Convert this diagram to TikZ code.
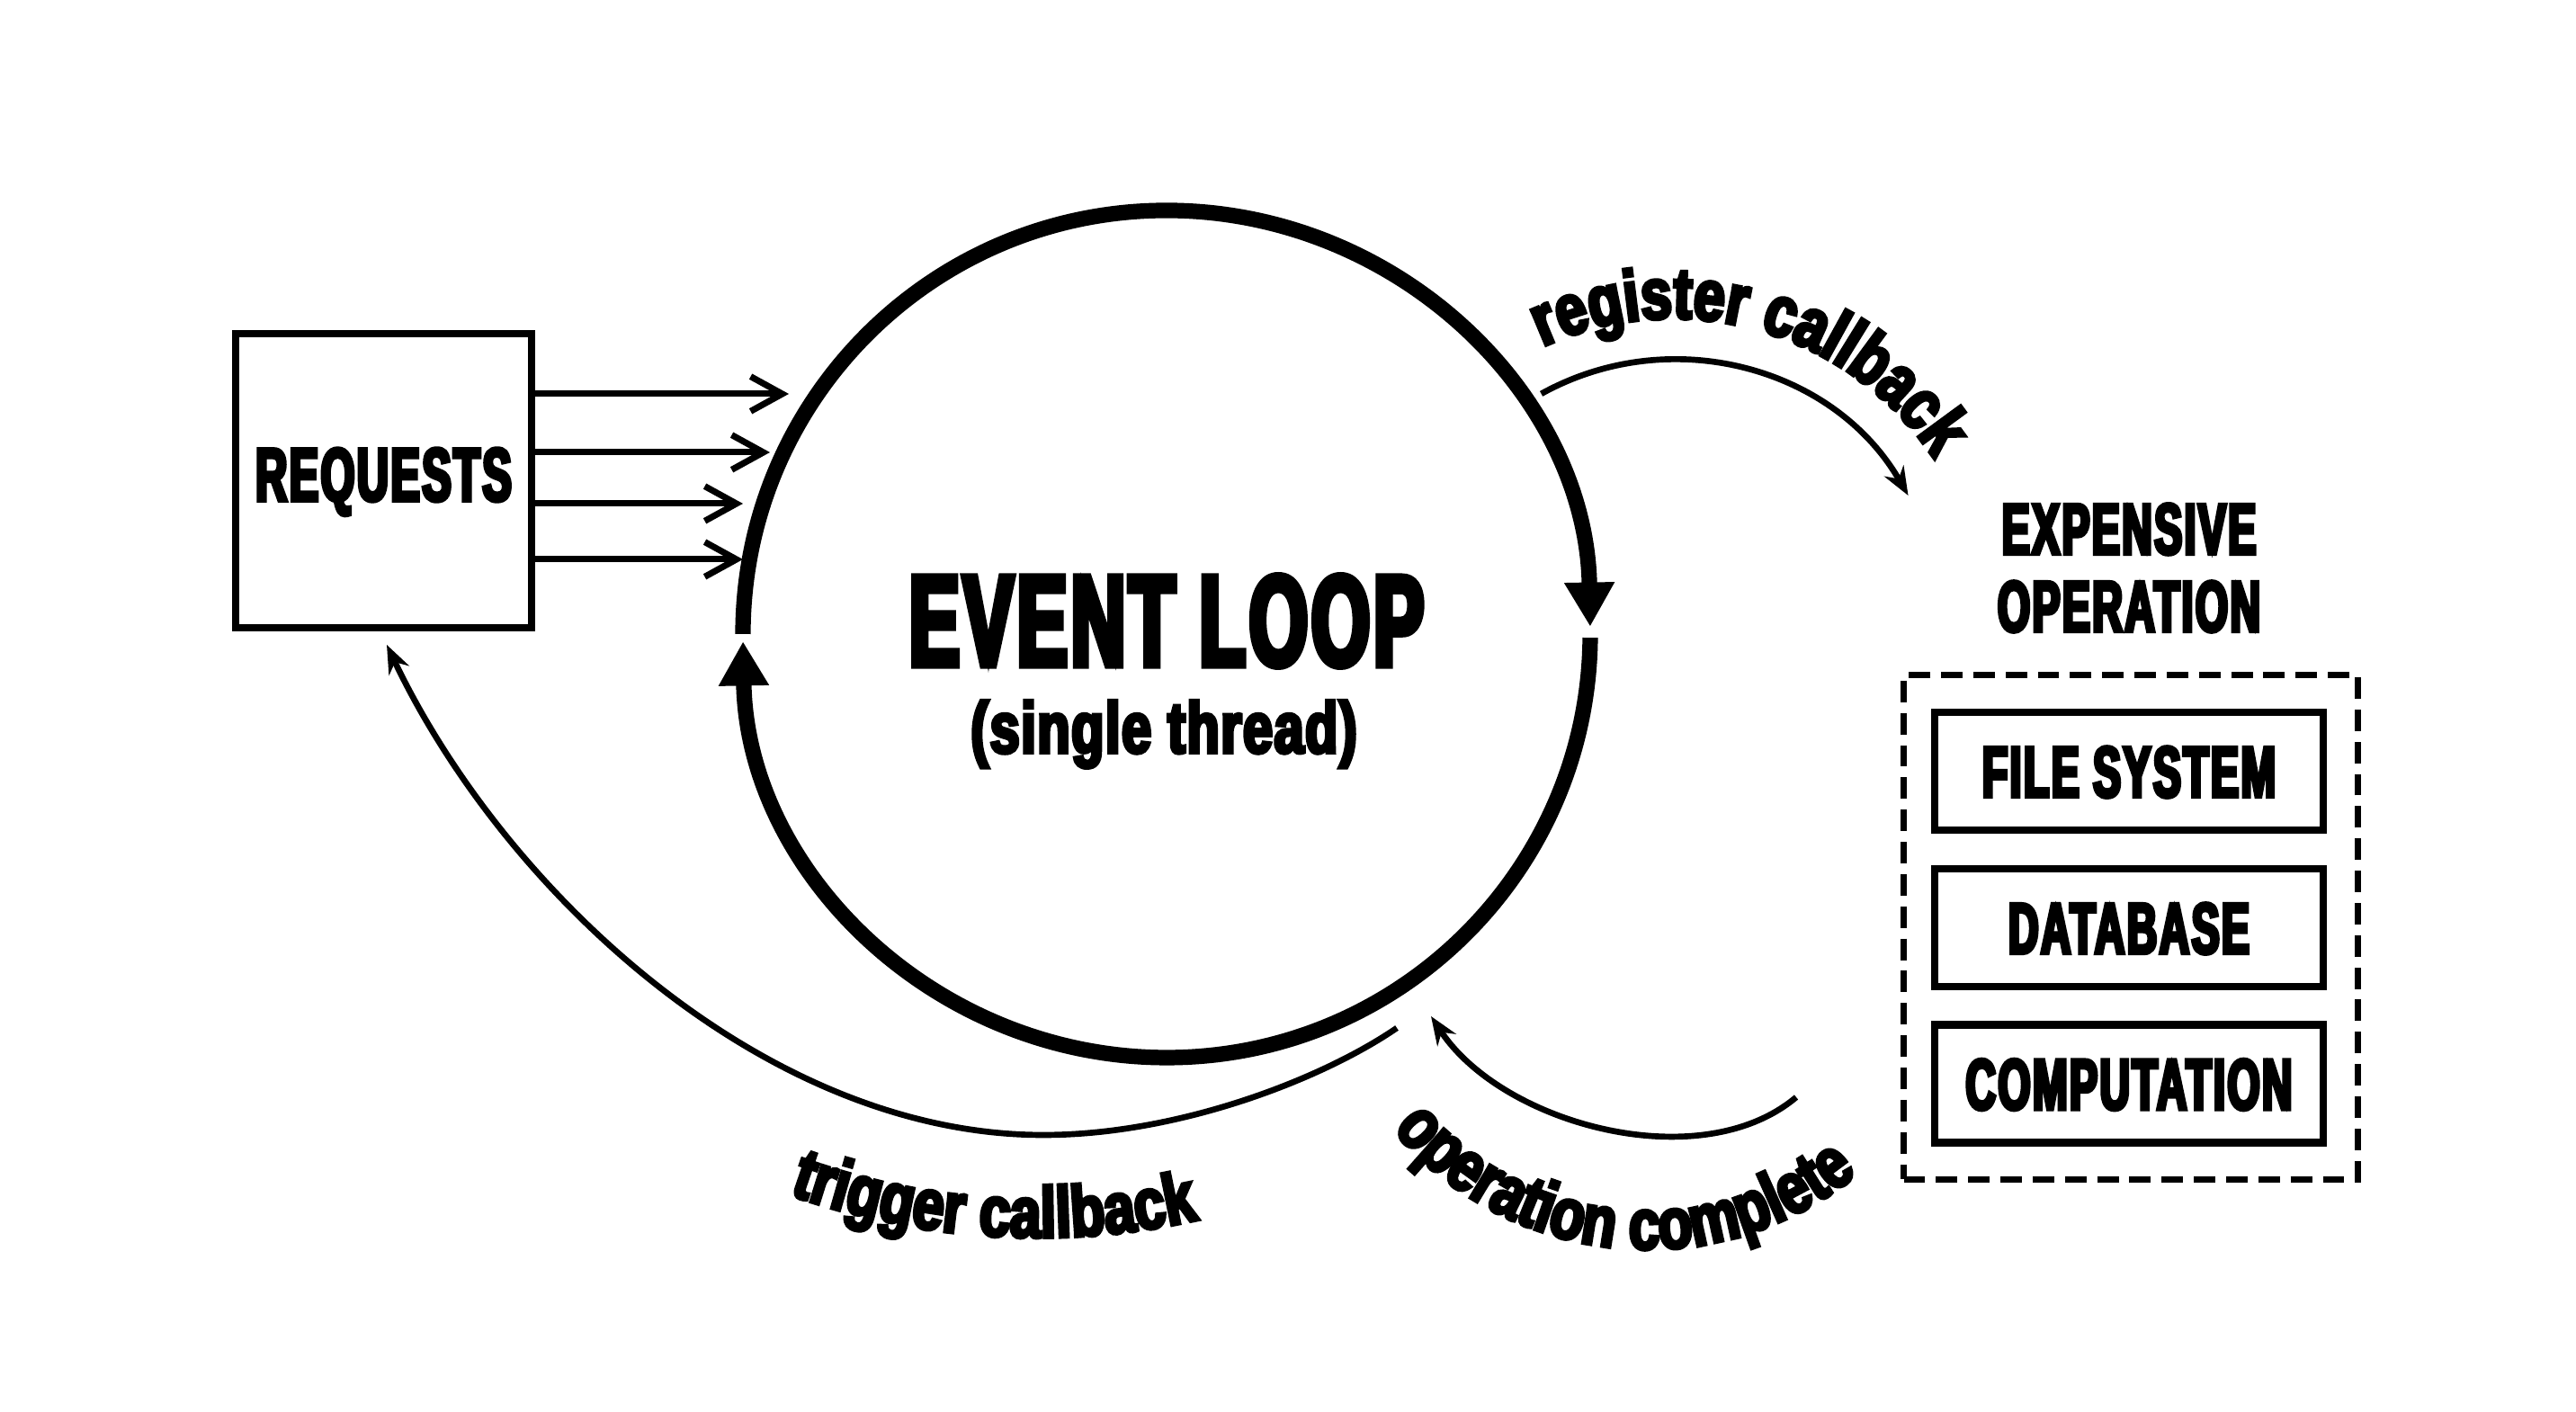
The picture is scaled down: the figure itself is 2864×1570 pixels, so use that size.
\documentclass[tikz,border=0pt]{standalone}
\usepackage{fontspec}
\usetikzlibrary{arrows.meta,decorations.text}
\newfontfamily\capsfam{Liberation Sans}[FakeStretch=0.58,FakeBold=5,LetterSpace=3]
\newfontfamily\lowfam{Liberation Sans}[FakeStretch=0.74,FakeBold=5,LetterSpace=2]
\newfontfamily\curvefam{Liberation Sans}[FakeStretch=0.78,FakeBold=5]
\newcommand\capsbig{\capsfam\bfseries\fontsize{40.9}{44}\selectfont}
\newcommand\capsmid{\capsfam\bfseries\fontsize{23.8}{26}\selectfont}
\newcommand\capssmall{\capsfam\bfseries\fontsize{22.8}{24.5}\selectfont}
\newcommand\lowtxt{\lowfam\bfseries\fontsize{22.8}{26}\selectfont}
\newcommand\curvetxt{\curvefam\bfseries\fontsize{22.8}{26}\selectfont}
\begin{document}
\begin{tikzpicture}[x=0.1mm,y=0.1mm,
  loopline/.style={line width=4.9pt,-{Triangle[length=14pt,width=15pt]}},
  reqarrow/.style={line width=2pt,-{Straight Barb[length=10pt,width=11pt]}},
  cbarrow/.style={line width=1.9pt,-{Stealth[length=9pt,width=7pt]}},
  solidbox/.style={draw,line width=2.4pt,inner sep=0pt},
  opbox/.style={solidbox,minimum width=43.2mm,minimum height=13.1mm,
    font=\capssmall,text height=16.3pt,text depth=0pt},
  curvetext/.style={decorate,decoration={text along path,
    text={|\curvetxt|#1},text align=center}}
]
\path[use as bounding box,fill=white] (0,0) rectangle (2864,1570);

% requests box
\node[solidbox,minimum width=32.9mm,minimum height=32.7mm,font=\capsmid,
  text height=17pt,text depth=4.3pt] (req) at (426.5,1035.5) {REQUESTS};

% request arrows
\coordinate (a1) at (877,1132);
\coordinate (a2) at (856,1067);
\coordinate (a3) at (826,1010);
\coordinate (a4) at (826,948);
\foreach \c in {a1,a2,a3,a4}
  \draw[reqarrow] (req.east |- \c) -- (\c);

% event loop
\coordinate (el) at (1297,865);
\draw[loopline] (el) ++(180:471) arc[start angle=180,end angle=1,radius=471];
\draw[loopline] (el) ++(-0.5:471) arc[start angle=-0.5,end angle=-179,radius=471];
\node[font=\capsbig,anchor=base,inner sep=0pt] (evt) at (1297,830) {EVENT LOOP};
\node[font=\lowtxt,anchor=base,inner sep=0pt] (thr) at (1294,733) {(single thread)};

% expensive operation
\node[font=\capssmall,align=center,inner sep=0pt] (exp) at (2367,938.5) {EXPENSIVE\\OPERATION};
\node[draw,line width=2pt,dash pattern=on 6.8pt off 3.4pt,
  minimum width=50.5mm,minimum height=56.1mm,inner sep=0pt] (ops) at (2369,539) {};
\node[opbox] (fs) at (2367,712.5) {FILE SYSTEM};
\node[opbox] (db) at (2367,538.5) {DATABASE};
\node[opbox] (cp) at (2367,365) {COMPUTATION};

% register callback
\coordinate (rcC) at (1860,868);
\draw[cbarrow] (rcC) ++(119:302) arc[start angle=119,end angle=30,radius=302];
\path[curvetext={register callback}] (rcC) ++(124:348) arc[start angle=124,end angle=24,radius=348];

% operation complete
\coordinate (ocS) at (1997,350);
\coordinate (ocE) at (1591,440);
\draw[cbarrow] (ocS) .. controls (1890,260) and (1670,320) .. (ocE);
\coordinate (ocC) at (1832,549);
\path[curvetext={operation complete}] (ocC) ++(204.5:368) arc[start angle=204.5,end angle=324.5,radius=368];

% trigger callback
\coordinate (tcS) at (1553,427);
\coordinate (tcB) at (1160,308);
\coordinate (tcE) at (430,853);
\draw[cbarrow] (tcS) .. controls (1470,370) and (1310,308) .. (tcB)
  .. controls (850,308) and (560,580) .. (tcE);
\coordinate (tcC) at (1153,1010);
\path[curvetext={trigger callback}] (tcC) ++(241.5:816) arc[start angle=241.5,end angle=291.5,radius=816];
\end{tikzpicture}
\end{document}
